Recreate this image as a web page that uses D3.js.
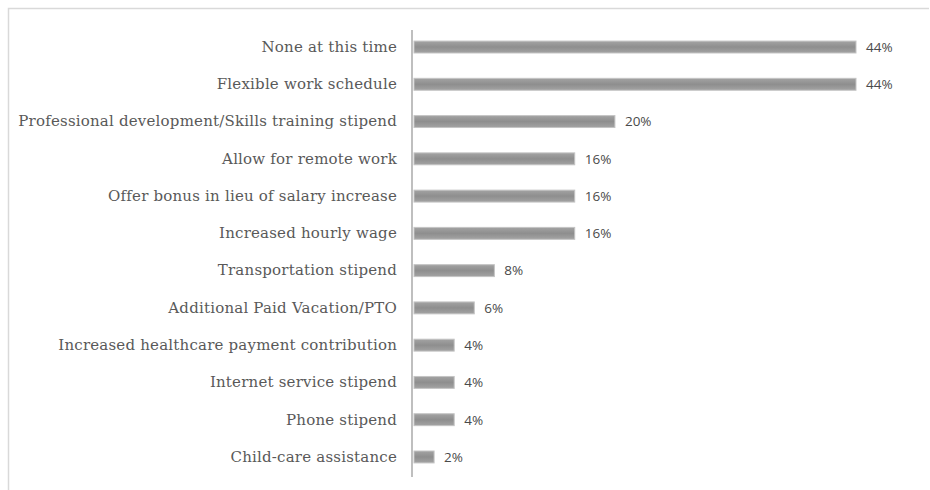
<!DOCTYPE html>
<html>
<head>
<meta charset="utf-8">
<script src="https://cdn.jsdelivr.net/npm/d3@7"></script>
<style>
  html, body { margin: 0; padding: 0; background: #fff; }
  svg { display: block; }
</style>
</head>
<body>
<svg id="chart" width="930" height="490"></svg>
<script>
// Survey responses: benefits offered, percent of respondents
const categories = [
  "None at this time",
  "Flexible work schedule",
  "Professional development/Skills training stipend",
  "Allow for remote work",
  "Offer bonus in lieu of salary increase",
  "Increased hourly wage",
  "Transportation stipend",
  "Additional Paid Vacation/PTO",
  "Increased healthcare payment contribution",
  "Internet service stipend",
  "Phone stipend",
  "Child-care assistance"
];
const values = [44, 44, 20, 16, 16, 16, 8, 6, 4, 4, 4, 2];
const valueLabels = ["44%", "44%", "20%", "16%", "16%", "16%", "8%", "6%", "4%", "4%", "4%", "2%"];

const svg = d3.select("#chart");

// Bar shading: slightly darker through the middle
const grad = svg.append("defs").append("linearGradient")
  .attr("id", "barFill").attr("x1", 0).attr("x2", 0).attr("y1", 0).attr("y2", 1);
grad.append("stop").attr("offset", "0%").attr("stop-color", "#a3a3a3");
grad.append("stop").attr("offset", "50%").attr("stop-color", "#8e8e8e");
grad.append("stop").attr("offset", "100%").attr("stop-color", "#a3a3a3");

// Frame around the plot area (top and left edges visible)
svg.append("path")
  .attr("d", "M8.5,490 L8.5,8.5 L929,8.5")
  .attr("fill", "none")
  .attr("stroke", "#d9d9d9")
  .attr("stroke-width", 1.5);

const x = d3.scaleLinear().domain([0, 44]).range([414, 856]);
const y = d3.scaleBand()
  .domain(categories)
  .range([28.4, 475.6])
  .paddingInner(0.68)
  .paddingOuter(0.34);

// Bars
svg.append("g")
  .selectAll("rect")
  .data(values)
  .join("rect")
  .attr("x", x(0))
  .attr("y", (d, i) => y(categories[i]))
  .attr("width", d => x(d) - x(0))
  .attr("height", y.bandwidth())
  .attr("fill", "url(#barFill)")
  .attr("stroke", "#c4c4c4")
  .attr("stroke-width", 1);

// Category axis
const axis = d3.axisLeft(y).tickSize(0).tickPadding(15);
const gAxis = svg.append("g")
  .attr("transform", "translate(412,0)")
  .call(axis);
gAxis.select(".domain")
  .attr("d", "M0,30V477")
  .attr("stroke", "#bfbfbf")
  .attr("stroke-width", 2);
gAxis.selectAll("text")
  .attr("font-family", "'DejaVu Serif', serif")
  .attr("font-size", 15)
  .attr("letter-spacing", 0.2)
  .attr("fill", "#595959");

// Value labels
svg.append("g")
  .selectAll("text")
  .data(values)
  .join("text")
  .attr("x", d => x(d) + 10)
  .attr("y", (d, i) => y(categories[i]) + y.bandwidth() / 2)
  .attr("dy", "0.36em")
  .attr("font-family", "'Open Sans', 'Liberation Sans', sans-serif")
  .attr("font-size", 13.5)
  .attr("fill", "#4a4a4a")
  .text((d, i) => valueLabels[i]);
</script>
</body>
</html>
